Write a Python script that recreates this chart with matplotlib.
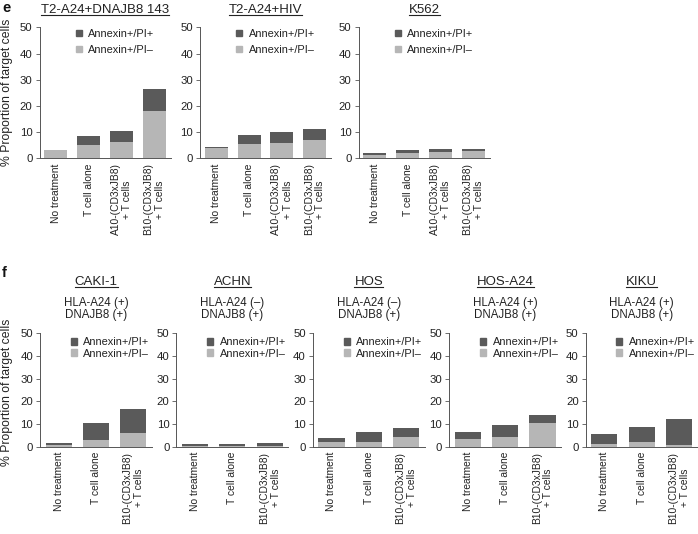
import numpy as np
import matplotlib
matplotlib.use('Agg')
import matplotlib.pyplot as plt
from matplotlib.patches import Patch
from matplotlib.lines import Line2D

plt.rcParams['font.family'] = ['Liberation Sans', 'DejaVu Sans']

# panel e: values in % of target cells (light = Annexin+/PI-, dark = Annexin+/PI+)
e_titles = ['T2-A24+DNAJB8 143', 'T2-A24+HIV', 'K562']
e_groups = ['No treatment', 'T cell alone', 'A10-(CD3xJB8)\n+ T cells', 'B10-(CD3xJB8)\n+ T cells']
e_pi_neg = [[3.0, 5.0, 6.3, 18.2],
            [4.0, 5.4, 6.0, 7.0],
            [1.4, 2.2, 2.4, 2.6]]
e_pi_pos = [[0.3, 3.6, 4.3, 8.2],
            [0.3, 3.5, 4.0, 4.1],
            [0.6, 0.9, 1.3, 1.1]]

# panel f
f_titles = ['CAKI-1', 'ACHN', 'HOS', 'HOS-A24', 'KIKU']
f_hla = ['(+)', '(\u2013)', '(\u2013)', '(+)', '(+)']
f_dnajb8 = ['(+)', '(+)', '(+)', '(+)', '(+)']
f_groups = ['No treatment', 'T cell alone', 'B10-(CD3xJB8)\n+ T cells']
f_pi_neg = [[0.6, 3.1, 6.2],
            [0.3, 0.3, 0.4],
            [1.9, 2.2, 4.1],
            [3.5, 4.3, 10.3],
            [1.3, 2.1, 0.8]]
f_pi_pos = [[0.9, 7.5, 10.3],
            [0.9, 0.9, 1.2],
            [2.1, 4.3, 4.0],
            [3.2, 5.1, 3.5],
            [4.5, 6.7, 11.4]]

dark = '#5a5a5a'
light = '#b6b6b6'
txt = '#222222'

W, H = 698, 534
fig = plt.figure(figsize=(W / 100, H / 100), dpi=100)


def style(ax, labels, leg_y, leg_sp):
    ax.set_ylim(0, 50)
    ax.set_xlim(-0.5, len(labels) - 0.5)
    ax.set_yticks(range(0, 51, 10))
    ax.set_xticks(range(len(labels)))
    ax.set_xticklabels(labels, rotation=90, ha='center', va='top',
                       multialignment='center', fontsize=7.4, color=txt)
    ax.tick_params(axis='x', length=0, pad=3.6)
    ax.tick_params(axis='y', length=3, width=0.6, color='#555555',
                   labelsize=8.2, labelcolor=txt, pad=2)
    for s in ['top', 'right']:
        ax.spines[s].set_visible(False)
    for s in ['left', 'bottom']:
        ax.spines[s].set_color('#555555')
        ax.spines[s].set_linewidth(0.7)
    handles = [Patch(color=dark, label='Annexin+/PI+'),
               Patch(color=light, label='Annexin+/PI\u2013')]
    ax.legend(handles=handles, loc='upper left', bbox_to_anchor=(0.275, leg_y),
              frameon=False, fontsize=7.9, handlelength=0.55, handleheight=0.55,
              handletextpad=0.6, labelspacing=leg_sp, borderaxespad=0,
              borderpad=0, labelcolor=txt)


titles = []

# panel e
e_lefts = [39.5, 200, 358.5]
for i in range(3):
    ax = fig.add_axes([e_lefts[i] / W, 1 - 158.3 / H, 131 / W, 131 / H])
    x = np.arange(len(e_groups))
    ax.bar(x, e_pi_neg[i], width=0.7, color=light, linewidth=0)
    ax.bar(x, e_pi_pos[i], width=0.7, bottom=e_pi_neg[i], color=dark, linewidth=0)
    style(ax, e_groups, 0.987, 0.55)
    cx = (e_lefts[i] + 65.5) / W
    titles.append(fig.text(cx, 1 - 10 / H, e_titles[i], ha='center', va='center',
                           fontsize=9.5, color=txt))

fig.text(7 / W, 1 - 92.8 / H, '% Proportion of target cells', rotation=90,
         ha='center', va='center', fontsize=8.8, color=txt)
fig.text(2 / W, 1 - 1 / H, 'e', ha='left', va='top', fontsize=10.5,
         fontweight='bold', color='#111111')

# panel f
f_lefts = [40, 176.4, 312.8, 449.2, 585.6]
for i in range(5):
    ax = fig.add_axes([f_lefts[i] / W, 1 - 446.7 / H, 112 / W, 113.4 / H])
    x = np.arange(len(f_groups))
    ax.bar(x, f_pi_neg[i], width=0.7, color=light, linewidth=0)
    ax.bar(x, f_pi_pos[i], width=0.7, bottom=f_pi_neg[i], color=dark, linewidth=0)
    style(ax, f_groups, 0.963, 0.1)
    cx = (f_lefts[i] + 56) / W
    titles.append(fig.text(cx, 1 - 281.7 / H, f_titles[i], ha='center', va='center',
                           fontsize=9.5, color=txt))
    fig.text(cx, 1 - 309 / H, 'HLA-A24 ' + f_hla[i] + '\nDNAJB8 ' + f_dnajb8[i],
             ha='center', va='center', multialignment='center', fontsize=8.3,
             linespacing=1.05, color=txt)

fig.text(7 / W, 1 - 392 / H, '% Proportion of target cells', rotation=90,
         ha='center', va='center', fontsize=8.8, color=txt)
fig.text(2 / W, 1 - 266 / H, 'f', ha='left', va='top', fontsize=10.5,
         fontweight='bold', color='#111111')

# underline the cell line names
fig.canvas.draw()
r = fig.canvas.get_renderer()
for t in titles:
    bb = t.get_window_extent(renderer=r)
    y = (bb.y0 + 1.0) / H
    fig.add_artist(Line2D([bb.x0 / W, bb.x1 / W], [y, y], color=txt, lw=0.8))

fig.savefig('out.png', dpi=100)
